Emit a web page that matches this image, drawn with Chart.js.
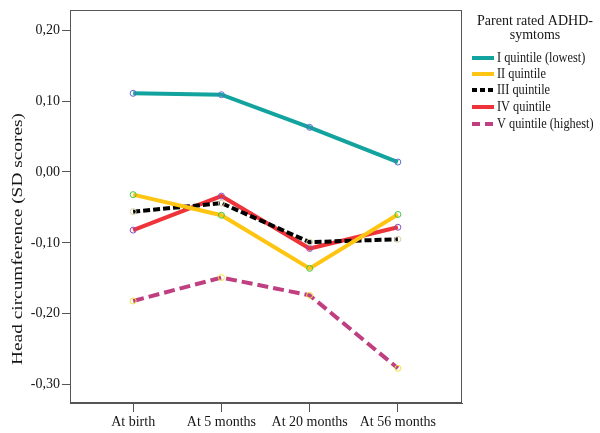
<!DOCTYPE html>
<html>
<head>
<meta charset="utf-8">
<script src="https://cdn.jsdelivr.net/npm/chart.js@4"></script>
<style>html,body{margin:0;padding:0;background:#fff;}canvas{display:block;}</style>
</head>
<body>
<canvas id="c" width="600" height="433"></canvas>
<script>
const categories = ['At birth', 'At 5 months', 'At 20 months', 'At 56 months'];
const seriesNames = ['I quintile (lowest)', 'II quintile', 'III quintile', 'IV quintile', 'V quintile (highest)'];
const q1 = [0.111, 0.109, 0.063, 0.014];
const q2 = [-0.032, -0.061, -0.136, -0.060];
const q3 = [-0.056, -0.044, -0.099, -0.095];
const q4 = [-0.082, -0.034, -0.108, -0.078];
const q5 = [-0.182, -0.149, -0.174, -0.277];
const yTickValues = [0.2, 0.1, 0, -0.1, -0.2, -0.3];
const yTitle = 'Head circumference (SD scores)';
const legendTitle = ['Parent rated ADHD-', 'symtoms'];

const FONT = "'Liberation Serif', 'Times New Roman', serif";
const FRAME = '#555555';
const TEXT = '#151515';

const lineColors = ['#13a39e', '#ffc512', '#000000', '#ee3339', '#bf3f80'];
const pointColors = ['#5b6cc8', '#3ec840', '#d6cfa2', '#8c50bd', '#f0e23c'];
const dashes = [[], [], [7, 3], [], [11, 5]];
const legendDashes = [[], [], [5, 3], [], [8, 5]];
const allSeries = [q1, q2, q3, q4, q5];

const datasets = allSeries.map((s, k) => ({
  label: seriesNames[k],
  data: s.map((v, i) => ({x: i, y: v})),
  borderColor: lineColors[k],
  backgroundColor: lineColors[k],
  borderWidth: 4,
  borderDash: dashes[k],
  tension: 0,
  fill: false,
  pointRadius: 3,
  pointBorderWidth: 1,
  pointBorderColor: pointColors[k],
  pointBackgroundColor: 'rgba(255,255,255,0)',
  pointHoverRadius: 3
}));

const decor = {
  id: 'decor',
  afterDraw(chart) {
    const ctx = chart.ctx;
    const a = chart.chartArea;
    ctx.save();
    // frame
    ctx.strokeStyle = FRAME;
    ctx.lineWidth = 1;
    ctx.setLineDash([]);
    ctx.strokeRect(Math.round(a.left) + 0.5, Math.round(a.top) + 0.5,
                   Math.round(a.right - a.left) - 1, Math.round(a.bottom - a.top) - 1);
    // y title
    ctx.fillStyle = TEXT;
    ctx.font = '15px ' + FONT;
    ctx.textAlign = 'center';
    ctx.textBaseline = 'middle';
    const w = ctx.measureText(yTitle).width;
    ctx.save();
    ctx.translate(18, 239);
    ctx.rotate(-Math.PI / 2);
    ctx.scale(252 / w, 1);
    ctx.fillText(yTitle, 0, 0);
    ctx.restore();
    // legend title
    ctx.font = '14px ' + FONT;
    ctx.fillText(legendTitle[0], 535, 21);
    ctx.fillText(legendTitle[1], 535, 35);
    // legend items
    const rows = [58, 74, 90, 107, 124];
    ctx.textAlign = 'left';
    ctx.font = '14.5px ' + FONT;
    chart.data.datasets.forEach((ds, k) => {
      const y = rows[k];
      ctx.strokeStyle = ds.borderColor;
      ctx.lineWidth = 4;
      ctx.setLineDash(legendDashes[k]);
      ctx.beginPath();
      ctx.moveTo(472, y);
      ctx.lineTo(494, y);
      ctx.stroke();
      ctx.setLineDash([]);
      ctx.fillStyle = TEXT;
      ctx.save();
      ctx.translate(497, y);
      ctx.scale(0.85, 1);
      ctx.fillText(ds.label, 0, 0);
      ctx.restore();
    });
    ctx.restore();
  }
};

new Chart(document.getElementById('c'), {
  type: 'line',
  data: {datasets},
  plugins: [decor],
  options: {
    responsive: false,
    animation: false,
    devicePixelRatio: 1,
    layout: {padding: {top: 7, right: 138, left: 0, bottom: 0}},
    plugins: {legend: {display: false}, tooltip: {enabled: false}, title: {display: false}},
    scales: {
      x: {
        type: 'linear',
        min: -0.716,
        max: 3.727,
        afterBuildTicks(scale) { scale.ticks = categories.map((c, i) => ({value: i})); },
        afterFit(scale) { scale.height = 30; },
        ticks: {
          callback: (v) => categories[v] ?? '',
          font: {family: FONT, size: 14},
          color: TEXT,
          padding: 2,
          maxRotation: 0,
          autoSkip: false
        },
        grid: {drawOnChartArea: false, drawTicks: true, tickLength: 9, color: FRAME, lineWidth: 1},
        border: {display: true, color: FRAME, width: 1}
      },
      y: {
        type: 'linear',
        min: -0.326,
        max: 0.228,
        afterBuildTicks(scale) { scale.ticks = yTickValues.map(v => ({value: v})); },
        afterFit(scale) { scale.width = 70; },
        ticks: {
          callback: (v) => (Math.abs(v) < 1e-9 ? 0 : v).toFixed(2).replace('.', ','),
          font: {family: FONT, size: 14},
          color: TEXT,
          padding: 2
        },
        grid: {drawOnChartArea: false, drawTicks: true, tickLength: 8, color: FRAME, lineWidth: 1},
        border: {display: true, color: FRAME, width: 1}
      }
    }
  }
});
</script>
</body>
</html>
